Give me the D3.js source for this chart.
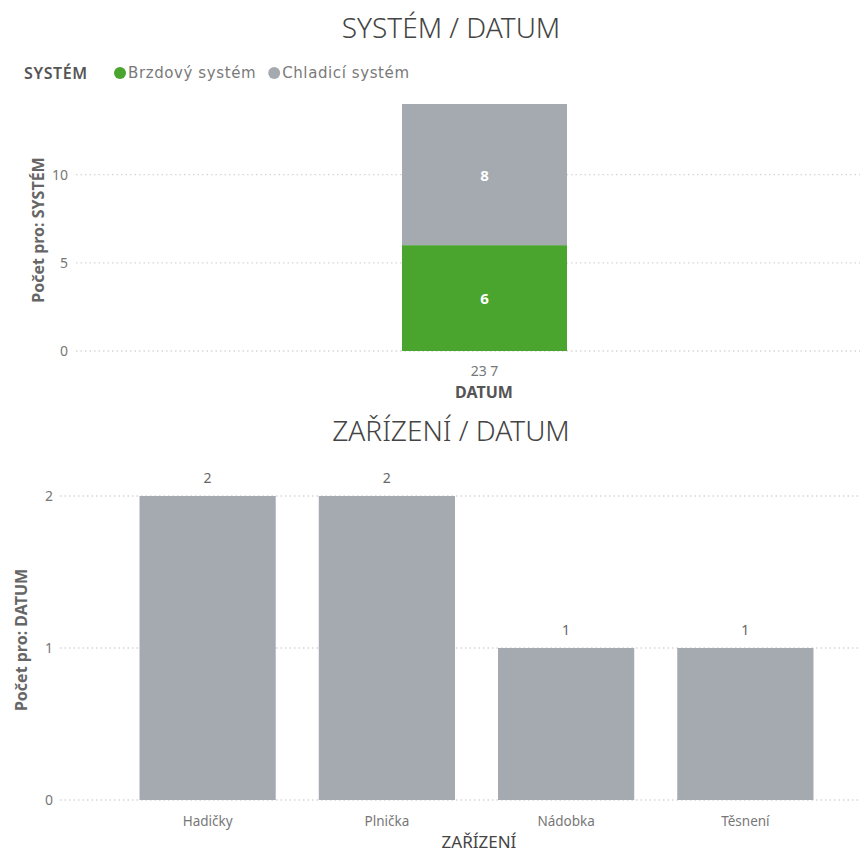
<!DOCTYPE html>
<html><head><meta charset="utf-8">
<script src="https://cdn.jsdelivr.net/npm/d3@7"></script>
<style>body{margin:0;background:#fff;} text{font-family:"Noto Sans","Open Sans",sans-serif;}</style>
</head><body><svg id="c" width="860" height="854"></svg>
<script>
// ---- data ----
const topTitle = "SYSTÉM / DATUM";
const dates = ["23 7"];
const systems = ["Brzdový systém", "Chladicí systém"];
const brzdovy = [6];
const chladici = [8];
const topTicks = [0, 5, 10];
const topColors = ["#4aa52e", "#a5aab1"];

const bottomTitle = "ZAŘÍZENÍ / DATUM";
const devices = ["Hadičky", "Plnička", "Nádobka", "Těsnení"];
const deviceCounts = [2, 2, 1, 1];
const bottomTicks = [0, 1, 2];

const svg = d3.select("#c");
const tickColor = "#777", titleColor = "#444", gridColor = "#d6d6d6";

// ---------- TOP CHART ----------
svg.append("text").attr("x", 451).attr("y", 38).attr("text-anchor", "middle")
  .attr("font-size", 28).attr("fill", titleColor).attr("font-weight", 300).text(topTitle);

// legend
const lg = svg.append("g");
lg.append("text").attr("x", 24).attr("y", 79).attr("font-size", 16).attr("font-weight", 600)
  .attr("letter-spacing", 0.6).attr("fill", "#555").text("SYSTÉM");
let lx = 120;
systems.forEach((s, i) => {
  lg.append("circle").attr("cx", lx).attr("cy", 73).attr("r", 6).attr("fill", topColors[i]);
  const t = lg.append("text").attr("x", lx + 8).attr("y", 78).attr("font-size", 15)
    .style("font-family", "'DejaVu Sans', sans-serif").attr("letter-spacing", 0.6).attr("fill", "#7a7a7a").text(s);
  lx += 8 + t.node().getComputedTextLength() + 18;
});

const yTop = d3.scaleLinear().domain([0, 14]).range([351, 104]);
const xTopB = d3.scaleBand().domain(dates).range([402, 567]);

const gTop = svg.append("g");
gTop.selectAll("line.grid").data(topTicks).join("line")
  .attr("x1", 76).attr("x2", 860).attr("y1", d => yTop(d)).attr("y2", d => yTop(d))
  .attr("stroke", gridColor).attr("stroke-width", 1.3).attr("stroke-dasharray", "1.5,3");
gTop.selectAll("text.tick").data(topTicks).join("text")
  .attr("x", 68).attr("y", d => yTop(d) + 5).attr("text-anchor", "end")
  .attr("font-size", 14).attr("fill", tickColor).text(d => d);

const stackData = dates.map((d, i) => ({date: d, "Brzdový systém": brzdovy[i], "Chladicí systém": chladici[i]}));
const stacked = d3.stack().keys(systems)(stackData);
stacked.forEach((layer, li) => {
  gTop.selectAll("rect.s" + li).data(layer).join("rect")
    .attr("x", d => xTopB(d.data.date)).attr("width", xTopB.bandwidth())
    .attr("y", d => yTop(d[1])).attr("height", d => yTop(d[0]) - yTop(d[1]))
    .attr("fill", topColors[li]);
  gTop.selectAll("text.v" + li).data(layer).join("text")
    .attr("x", d => xTopB(d.data.date) + xTopB.bandwidth() / 2)
    .attr("y", d => (yTop(d[0]) + yTop(d[1])) / 2 + 6)
    .attr("text-anchor", "middle").attr("font-size", 15).attr("font-weight", 700)
    .attr("fill", "#fff").text(d => d[1] - d[0]);
});
gTop.selectAll("text.xl").data(dates).join("text")
  .attr("x", d => xTopB(d) + xTopB.bandwidth() / 2).attr("y", 376).attr("text-anchor", "middle")
  .attr("font-size", 14).attr("fill", tickColor).text(d => d);
svg.append("text").attr("x", 484).attr("y", 398).attr("text-anchor", "middle")
  .attr("font-size", 16).attr("font-weight", 700).attr("fill", "#555").text("DATUM");
svg.append("text").attr("transform", "translate(44,230) rotate(-90)").attr("text-anchor", "middle")
  .attr("font-size", 16).attr("font-weight", 700).attr("fill", "#666").text("Počet pro: SYSTÉM");

// ---------- BOTTOM CHART ----------
svg.append("text").attr("x", 451).attr("y", 441).attr("text-anchor", "middle")
  .attr("font-size", 28).attr("fill", titleColor).attr("font-weight", 300).text(bottomTitle);

const yB = d3.scaleLinear().domain([0, 2]).range([800, 496]);
const xB = d3.scaleBand().domain(devices).range([118, 835]).paddingInner(0.24).paddingOuter(0.12);
const gB = svg.append("g");
gB.selectAll("line.grid").data(bottomTicks).join("line")
  .attr("x1", 60).attr("x2", 860).attr("y1", d => yB(d)).attr("y2", d => yB(d))
  .attr("stroke", gridColor).attr("stroke-width", 1.3).attr("stroke-dasharray", "1.5,3");
gB.selectAll("text.tick").data(bottomTicks).join("text")
  .attr("x", 53).attr("y", d => yB(d) + 5).attr("text-anchor", "end")
  .attr("font-size", 14).attr("fill", tickColor).text(d => d);
gB.selectAll("rect").data(devices).join("rect")
  .attr("x", d => xB(d)).attr("width", xB.bandwidth())
  .attr("y", (d, i) => yB(deviceCounts[i])).attr("height", (d, i) => yB(0) - yB(deviceCounts[i]))
  .attr("fill", "#a5aab1");
gB.selectAll("text.v").data(devices).join("text")
  .attr("x", d => xB(d) + xB.bandwidth() / 2).attr("y", (d, i) => yB(deviceCounts[i]) - 13)
  .attr("text-anchor", "middle").attr("font-size", 14).attr("fill", "#666").text((d, i) => deviceCounts[i]);
gB.selectAll("text.xl").data(devices).join("text")
  .attr("x", d => xB(d) + xB.bandwidth() / 2).attr("y", 826).attr("text-anchor", "middle")
  .attr("font-size", 13.5).attr("fill", tickColor).text(d => d);
svg.append("text").attr("x", 479).attr("y", 848).attr("text-anchor", "middle")
  .attr("font-size", 17).attr("fill", "#444").text("ZAŘÍZENÍ");
svg.append("text").attr("transform", "translate(27,640) rotate(-90)").attr("text-anchor", "middle")
  .attr("font-size", 16).attr("font-weight", 700).attr("fill", "#666").text("Počet pro: DATUM");
</script></body></html>
